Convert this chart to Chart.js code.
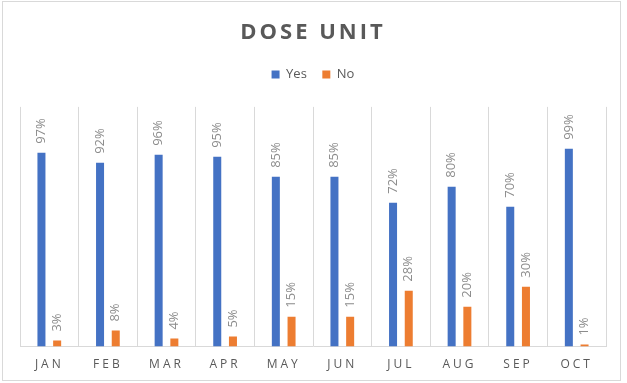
<!DOCTYPE html>
<html>
<head>
<meta charset="utf-8">
<script src="https://cdn.jsdelivr.net/npm/chart.js@4.4.1/dist/chart.umd.min.js"></script>
<style>
  html, body { margin: 0; padding: 0; background: #ffffff; }
  #wrap { position: relative; width: 627px; height: 383px; }
</style>
</head>
<body>
<div id="wrap"><canvas id="c" width="627" height="383"></canvas></div>
<script>
// ---- data ----
const categories = ["JAN", "FEB", "MAR", "APR", "MAY", "JUN", "JUL", "AUG", "SEP", "OCT"];
const yesValues = [97, 92, 96, 95, 85, 85, 72, 80, 70, 99];
const noValues  = [3, 8, 4, 5, 15, 15, 28, 20, 30, 1];
const seriesNames = ["Yes", "No"];
const chartTitle = "DOSE UNIT";

const BLUE = "#4472C4";
const ORANGE = "#ED7D31";
const TEXT = "#595959";
const LABEL = "#8C8C8C";
const GRID = "#D9D9D9";

// letter-spacing for title and x tick labels, extra room below legend
const spacingPlugin = {
  id: "spacing",
  beforeLayout(chart) {
    const lg = chart.legend;
    if (lg && !lg._ext) {
      const f = lg.fit;
      lg.fit = function () { f.call(this); this.height += 16; };
      lg._ext = true;
    }
  },
  beforeDraw(chart) {
    const ctx = chart.ctx;
    ctx.save();
    ctx.strokeStyle = GRID;
    ctx.lineWidth = 1;
    ctx.strokeRect(2.5, 1.5, 618, 379);
    ctx.restore();
    const t = chart.titleBlock;
    if (t && !t._ls) {
      const d = t.draw;
      t.draw = function (a) { ctx.save(); ctx.letterSpacing = "3px"; d.call(this, a); ctx.restore(); };
      t._ls = true;
    }
    const x = chart.scales.x;
    if (x && !x._ls) {
      const dl = x.drawLabels;
      x.drawLabels = function (a) { ctx.save(); ctx.letterSpacing = "3px"; dl.call(this, a); ctx.restore(); };
      x._ls = true;
    }
  }
};

// rotated value labels above bars
const valueLabels = {
  id: "valueLabels",
  afterDatasetsDraw(chart) {
    const ctx = chart.ctx;
    ctx.save();
    ctx.font = "13px 'Open Sans'";
    ctx.fillStyle = LABEL;
    ctx.textAlign = "left";
    ctx.textBaseline = "middle";
    chart.data.datasets.forEach((ds, di) => {
      const meta = chart.getDatasetMeta(di);
      meta.data.forEach((el, i) => {
        ctx.save();
        ctx.translate(el.x, el.y - 9);
        ctx.rotate(-Math.PI / 2);
        ctx.fillText(ds.data[i] + "%", 0, 0);
        ctx.restore();
      });
    });
    ctx.restore();
  }
};

new Chart(document.getElementById("c"), {
  type: "bar",
  data: {
    labels: categories,
    datasets: [
      { label: seriesNames[0], data: yesValues, backgroundColor: BLUE, borderWidth: 0,
        categoryPercentage: 0.536, barPercentage: 0.51 },
      { label: seriesNames[1], data: noValues, backgroundColor: ORANGE, borderWidth: 0,
        categoryPercentage: 0.536, barPercentage: 0.51 }
    ]
  },
  options: {
    responsive: false,
    animation: false,
    devicePixelRatio: 1,
    layout: { padding: { top: 0, left: 20, right: 21, bottom: 0 } },
    plugins: {
      title: {
        display: true,
        text: chartTitle,
        color: TEXT,
        font: { family: "'Open Sans'", size: 22, weight: "bold", lineHeight: 1.2 },
        padding: { top: 20, bottom: 6 }
      },
      legend: {
        display: true,
        position: "top",
        labels: {
          color: TEXT,
          boxWidth: 8,
          boxHeight: 8,
          padding: 15.5,
          font: { family: "'Open Sans'", size: 13 }
        }
      },
      tooltip: { enabled: false }
    },
    scales: {
      x: {
        grid: { display: true, color: GRID, drawTicks: false, offset: true },
        border: { display: true, color: GRID },
        ticks: { color: TEXT, font: { family: "'Open Sans'", size: 12 }, padding: 11, maxRotation: 0, autoSkip: false }
      },
      y: {
        display: false,
        min: 0,
        max: 120
      }
    }
  },
  plugins: [spacingPlugin, valueLabels]
});
</script>
</body>
</html>
